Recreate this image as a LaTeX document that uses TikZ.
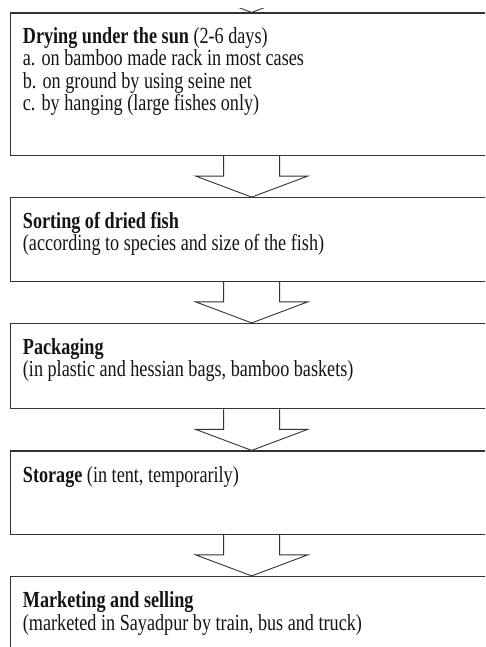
\documentclass[tikz,border=0pt]{standalone}
\usepackage{fontspec}
\setmainfont[FakeStretch=0.79]{Liberation Serif}
\usepackage{tikz}
\usetikzlibrary{calc,positioning}
\definecolor{edge}{HTML}{333333}
\definecolor{ink}{HTML}{141414}
\newcommand{\topstrut}{\rule{0pt}{17pt}}
\tikzset{
  stage/.style={rectangle, draw=edge, line width=1.3pt, minimum width=482pt, inner sep=0pt},
  stagetxt/.style={anchor=north west, inner sep=0pt, align=left, text=ink,
    font=\fontsize{23}{22.4}\selectfont},
  blockarr/.style={draw=edge, line width=0.9pt, line join=miter},
}

\begin{document}
\begin{tikzpicture}[x=1pt, y=1pt, node distance=41pt]
  \useasboundingbox (0,0) rectangle (485,-647);
  \clip (0,0) rectangle (485,-647);

  % stages
  \node[stage, minimum height=142.4pt, anchor=north west] (dry) at (10,-12.4) {};
  \node[stage, minimum height=83.5pt, below=of dry] (sort) {};
  \node[stage, minimum height=85.2pt, below=of sort] (pack) {};
  \node[stage, minimum height=83.2pt, below=of pack] (store) {};
  \node[stage, minimum height=84pt, below=of store] (market) {};

  % texts
  \node[stagetxt] (dry-txt) at ($(dry.north west)+(12.7,-14)$)
    {\topstrut\textbf{Drying under the sun} (2-6 days)\\
     a. on bamboo made rack in most cases\\
     b. on ground by using seine net\\
     c. by hanging (large fishes only)};
  \node[stagetxt] (sort-txt) at ($(sort.north west)+(12.7,-14)$)
    {\topstrut\textbf{Sorting of dried fish}\\
     (according to species and size of the fish)};
  \node[stagetxt] (pack-txt) at ($(pack.north west)+(12.7,-14)$)
    {\topstrut\textbf{Packaging}\\
     (in plastic and hessian bags, bamboo baskets)};
  \node[stagetxt] (store-txt) at ($(store.north west)+(12.7,-14.5)$)
    {\topstrut\textbf{Storage} (in tent, temporarily)};
  \node[stagetxt] (market-txt) at ($(market.north west)+(12.7,-14.5)$)
    {\topstrut\textbf{Marketing and selling}\\
     (marketed in Sayadpur by train, bus and truck)};

  % block arrows
  \foreach \a/\b in {dry/sort, sort/pack, pack/store, store/market}
    \draw[blockarr] ($(\a.south)+(-28,0)$) -- ++(0,-20) -- ++(-28,0)
      -- (\b.north) -- ($(\a.south)+(56,-20)$) -- ++(-28,0) -- ++(0,20);

  % tip of the arrow from the stage above
  \coordinate (prev) at ($(dry.north)+(0,41)$);
  \begin{scope}
    \clip (0,-8.5) rectangle (485,-30);
    \draw[blockarr] ($(prev)+(-28,0)$) -- ++(0,-20) -- ++(-28,0)
      -- (dry.north) -- ($(prev)+(56,-20)$) -- ++(-28,0) -- ++(0,20);
  \end{scope}
\end{tikzpicture}
\end{document}
